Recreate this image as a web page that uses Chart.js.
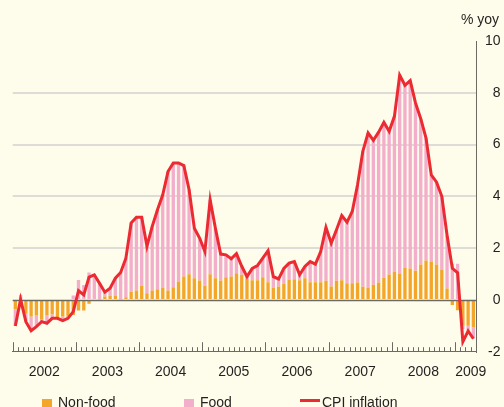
<!DOCTYPE html>
<html>
<head>
<meta charset="utf-8">
<script src="https://cdn.jsdelivr.net/npm/chart.js"></script>
<style>
  html, body { margin: 0; padding: 0; background: #fefcea; overflow: hidden; }
  #wrap { position: relative; width: 504px; height: 407px; font-family: "Liberation Sans", Arial, sans-serif; color: #231f20; }
  #unit { position: absolute; top: 10.5px; right: 5px; font-size: 14px; line-height: 16px; }
  .leg { position: absolute; top: 394px; font-size: 14px; line-height: 16px; white-space: nowrap; }
  .leg span { position: absolute; }
</style>
</head>
<body>
<div id="wrap">
  <canvas id="chart" width="504" height="407"></canvas>
  <div id="unit">% yoy</div>
  <div class="leg" style="left:42px"><span style="left:0;top:4.7px;width:10px;height:10px;background:#f4a62a"></span><span style="left:16px;top:0">Non-food</span></div>
  <div class="leg" style="left:184px"><span style="left:0;top:4.7px;width:10px;height:10px;background:#f2aecb"></span><span style="left:16px;top:0">Food</span></div>
  <div class="leg" style="left:300px"><span style="left:0;top:4.5px;width:20px;height:3px;background:#ec2a31"></span><span style="left:22px;top:0">CPI inflation</span></div>
</div>
<script>
// Jan 2002 - Apr 2009, monthly
const years = ["2002", "2003", "2004", "2005", "2006", "2007", "2008", "2009"];
const months = ["Jan", "Feb", "Mar", "Apr", "May", "Jun", "Jul", "Aug", "Sep", "Oct", "Nov", "Dec"];
const monthsIn2009 = 4;

const nonFood = [
    -0.36, -0.12, -0.52, -0.64, -0.58, -0.77, -0.60, -0.55, -0.66, -0.64, -0.64, -0.58,
    -0.41, -0.41, -0.15, 0.00, 0.03, 0.13, 0.15, 0.17, 0.03, 0.10, 0.32, 0.36,
    0.55, 0.26, 0.36, 0.41, 0.48, 0.36, 0.49, 0.71, 0.90, 0.99, 0.84, 0.75,
    0.55, 0.99, 0.84, 0.75, 0.88, 0.90, 1.03, 0.97, 0.81, 0.76, 0.76, 0.88,
    0.68, 0.48, 0.52, 0.61, 0.77, 0.80, 0.76, 0.84, 0.68, 0.68, 0.68, 0.74,
    0.52, 0.74, 0.76, 0.64, 0.64, 0.67, 0.51, 0.48, 0.59, 0.67, 0.86, 0.98,
    1.10, 1.02, 1.25, 1.21, 1.13, 1.37, 1.52, 1.48, 1.37, 1.17, 0.44, -0.20,
    -0.40, -1.00, -1.00, -1.06
];
const food = [
    -0.65, 0.20, -0.30, -0.55, -0.45, -0.07, -0.30, -0.16, -0.05, -0.16, -0.07, 0.17,
    0.77, 0.58, 1.06, 1.00, 0.62, 0.17, 0.30, 0.67, 1.03, 1.51, 2.65, 2.83,
    2.64, 1.81, 2.48, 3.07, 3.58, 4.60, 4.80, 4.58, 4.29, 3.27, 1.93, 1.64,
    1.32, 2.88, 1.93, 1.02, 0.86, 0.69, 0.76, 0.33, 0.09, 0.46, 0.57, 0.73,
    1.22, 0.42, 0.29, 0.61, 0.65, 0.68, 0.21, 0.45, 0.80, 0.70, 1.19, 2.06,
    1.67, 1.97, 2.50, 2.36, 2.78, 3.78, 5.23, 5.97, 5.57, 5.81, 6.00, 5.53,
    5.99, 7.66, 7.04, 7.26, 6.48, 5.63, 4.73, 3.35, 3.18, 2.83, 2.06, 1.40,
    1.40, -0.12, -0.17, -0.42
];
const cpi = [
    -1.01, 0.02, -0.84, -1.19, -1.03, -0.84, -0.90, -0.71, -0.71, -0.80, -0.71, -0.45,
    0.36, 0.19, 0.88, 0.97, 0.64, 0.30, 0.45, 0.84, 1.06, 1.61, 2.97, 3.19,
    3.19, 2.07, 2.84, 3.48, 4.06, 4.96, 5.29, 5.29, 5.19, 4.26, 2.77, 2.39,
    1.87, 3.87, 2.77, 1.77, 1.74, 1.59, 1.79, 1.30, 0.90, 1.22, 1.33, 1.61,
    1.90, 0.90, 0.81, 1.22, 1.42, 1.48, 0.97, 1.29, 1.48, 1.38, 1.87, 2.80,
    2.19, 2.71, 3.26, 3.00, 3.42, 4.45, 5.74, 6.45, 6.16, 6.48, 6.86, 6.51,
    7.09, 8.68, 8.29, 8.47, 7.61, 7.00, 6.25, 4.83, 4.55, 4.00, 2.50, 1.22,
    1.05, -1.61, -1.20, -1.50
];

const labels = [];
years.forEach(function (y, i) {
    const n = i === years.length - 1 ? monthsIn2009 : 12;
    for (let m = 0; m < n; m++) labels.push(months[m] + " " + y);
});

const axisColor = "#6b6b62";

// zero line over the bars, month ticks pointing up from the x axis
const extras = {
    id: "extras",
    beforeDatasetDraw(chart, args) {
        if (args.index !== 0) return;
        const ctx = chart.ctx, area = chart.chartArea;
        const y0 = Math.round(chart.scales.y.getPixelForValue(0)) + 0.5;
        ctx.save();
        ctx.strokeStyle = axisColor;
        ctx.lineWidth = 1.5;
        ctx.beginPath();
        ctx.moveTo(area.left, y0);
        ctx.lineTo(area.right, y0);
        ctx.stroke();
        ctx.restore();
    },
    afterDraw(chart) {
        const ctx = chart.ctx, area = chart.chartArea, x = chart.scales.x;
        const step = x.getPixelForValue(1) - x.getPixelForValue(0);
        ctx.save();
        ctx.strokeStyle = axisColor;
        ctx.lineWidth = 1;
        for (let i = 0; i < labels.length; i++) {
            const px = Math.round(x.getPixelForValue(i) - step / 2) + 0.5;
            const len = i % 12 === 0 ? 9.5 : 4.5;
            ctx.beginPath();
            ctx.moveTo(px, area.bottom);
            ctx.lineTo(px, area.bottom - len);
            ctx.stroke();
        }
        ctx.restore();
    }
};

Chart.defaults.font.family = "'Liberation Sans', Arial, sans-serif";
Chart.defaults.font.size = 14;
Chart.defaults.color = "#231f20";

new Chart("chart", {
    type: "bar",
    data: {
        labels: labels,
        datasets: [{
            type: "line",
            label: "CPI inflation",
            data: cpi,
            borderColor: "#ec2a31",
            borderWidth: 3,
            pointRadius: 0,
            tension: 0,
            stack: "cpi",
            order: 0
        }, {
            label: "Non-food",
            data: nonFood,
            backgroundColor: "#f4a62a",
            stack: "parts",
            order: 1
        }, {
            label: "Food",
            data: food,
            backgroundColor: "#f2aecb",
            stack: "parts",
            order: 1
        }]
    },
    options: {
        responsive: false,
        animation: false,
        barPercentage: 0.63,
        categoryPercentage: 1,
        layout: {
            padding: { left: 12.7, right: 3.5, top: 41, bottom: 22.5 }
        },
        plugins: {
            legend: { display: false },
            tooltip: { enabled: false }
        },
        scales: {
            x: {
                stacked: true,
                grid: { display: false },
                border: { display: true, color: axisColor, width: 1 },
                ticks: {
                    autoSkip: false,
                    maxRotation: 0,
                    padding: 4,
                    labelOffset: 2.6,
                    callback: function (value, index) {
                        if (index === labels.length - 2) return years[years.length - 1];
                        if (index % 12 === 5 && index < 84) return years[Math.floor(index / 12)];
                        return "";
                    }
                }
            },
            y: {
                stacked: true,
                position: "right",
                min: -2,
                max: 10,
                grid: {
                    drawTicks: false,
                    color: function (c) {
                        const v = c.tick.value;
                        return (v === 0 || v === 10 || v === -2) ? "rgba(0,0,0,0)" : "#dddcd6";
                    },
                    lineWidth: 2
                },
                border: { display: true, color: axisColor, width: 1 },
                ticks: {
                    stepSize: 2,
                    padding: 4.45,
                    crossAlign: "far"
                }
            }
        }
    },
    plugins: [extras]
});
</script>
</body>
</html>
